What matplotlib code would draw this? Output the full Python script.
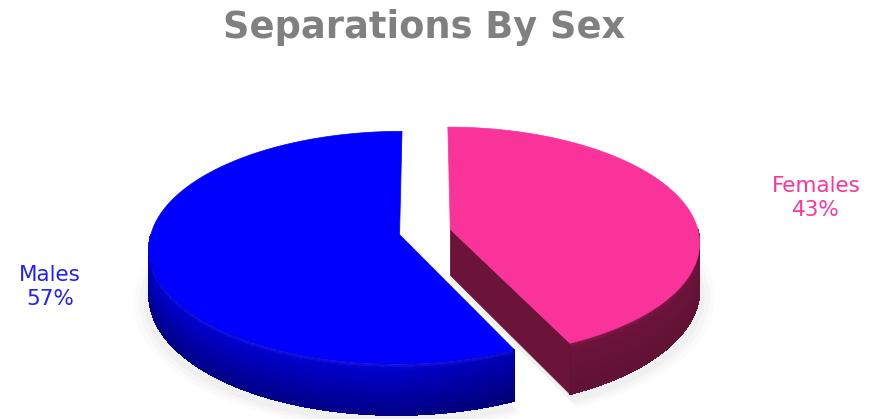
import numpy as np
import matplotlib
matplotlib.use("Agg")
import matplotlib.pyplot as plt
from matplotlib.patches import Polygon
from matplotlib.collections import PolyCollection

# ---- data ----
categories = ["Females", "Males"]
values = [43, 57]
title = "Separations By Sex"

top_colors = ["#F9339A", "#0000FF"]
text_colors = ["#FF3399", "#1F1FFF"]

W, H = 882, 419
fig = plt.figure(figsize=(W / 100, H / 100), dpi=100)
ax = fig.add_axes([0, 0, 1, 1])
ax.set_xlim(0, W)
ax.set_ylim(H, 0)
ax.axis("off")

cx, cy = 425, 232
R, RY, K, DEPTH = 248, 114, 0.109, 46
EXPLODE = 0.105


def proj(u, v, z, ox, oy):
    uu = np.asarray(u) + ox
    vv = np.asarray(v) + oy
    s = 1.0 / (1.0 + K * vv)
    return cx + R * uu * s, cy - RY * vv * s + DEPTH * z * s


def wall_color(idx, a, z):
    if idx == 1:  # Males (blue)
        if z < 0.12:
            c = np.array([30, 30, 238]) * (1 - z / 0.12) + np.array([0, 0, 205]) * (z / 0.12)
        else:
            t = (z - 0.12) / 0.88
            c = np.array([0, 0, 205]) * (1 - t) + np.array([0, 0, 135]) * t
        c = c * (1 - 0.3 * max(0.0, np.cos(np.radians(a))))
    else:  # Females (maroon)
        if z < 0.1:
            c = np.array([150, 30, 85]) * (1 - z / 0.1) + np.array([110, 20, 60]) * (z / 0.1)
        else:
            c = np.array([110, 20, 60]) * (1 - 0.12 * z)
    return tuple(np.clip(c, 0, 255) / 255.0)


total = float(sum(values))
slices = []
start = 90.0
for i, val in enumerate(values):
    t1 = start
    t2 = start - 360.0 * val / total
    mid = np.radians((t1 + t2) / 2)
    ox, oy = EXPLODE * np.cos(mid), EXPLODE * np.sin(mid)
    slices.append((i, t1, t2, ox, oy))
    start = t2

# soft shadow under the pie
for grow, alpha in [(1.06, 0.03), (1.04, 0.04), (1.02, 0.05)]:
    for (i, t1, t2, ox, oy) in slices:
        ang = np.radians(np.linspace(t2, t1, 120))
        u = np.concatenate([[0], np.cos(ang) * grow])
        v = np.concatenate([[0], np.sin(ang) * grow])
        x, y = proj(u, v, 1.0, ox, oy)
        ax.add_patch(Polygon(np.column_stack([x, y + 6]), closed=True,
                             facecolor="#888888", edgecolor="none", alpha=alpha, zorder=1))

# draw back slices first
order = sorted(slices, key=lambda s: -s[4])
zo = 2
for (i, t1, t2, ox, oy) in order:
    # radial walls facing the viewer
    for th, normal_v in [(t1, np.cos(np.radians(t1))), (t2, -np.cos(np.radians(t2)))]:
        if normal_v < -1e-6:
            a = np.radians(th)
            u = np.array([0, np.cos(a), np.cos(a), 0])
            v = np.array([0, np.sin(a), np.sin(a), 0])
            z = np.array([0, 0, 1, 1])
            x, y = proj(u, v, z, ox, oy)
            col = "#6B1339" if i == 0 else "#0000A0"
            ax.add_patch(Polygon(np.column_stack([x, y]), closed=True,
                                 facecolor=col, edgecolor=col, linewidth=0.5, zorder=zo))
    zo += 1
    # curved front wall
    lo, hi = max(t2, -180.0), min(t1, 0.0)
    if hi > lo:
        angs = np.linspace(lo, hi, 70)
        zs = np.linspace(0, 1, 24)
        polys, cols = [], []
        for j in range(len(angs) - 1):
            a0, a1 = np.radians(angs[j]), np.radians(angs[j + 1])
            for k in range(len(zs) - 1):
                z0, z1 = zs[k], zs[k + 1]
                u = np.array([np.cos(a0), np.cos(a1), np.cos(a1), np.cos(a0)])
                v = np.array([np.sin(a0), np.sin(a1), np.sin(a1), np.sin(a0)])
                zz = np.array([z0, z0, z1, z1])
                x, y = proj(u, v, zz, ox, oy)
                polys.append(np.column_stack([x, y]))
                cols.append(wall_color(i, (angs[j] + angs[j + 1]) / 2, (z0 + z1) / 2))
        pc = PolyCollection(polys, facecolors=cols, edgecolors=cols, linewidths=0.6,
                            antialiaseds=False, zorder=zo)
        ax.add_collection(pc)
        # smooth outline of the wall
        a = np.radians(np.linspace(lo, hi, 200))
        xt, yt = proj(np.cos(a), np.sin(a), 0.0, ox, oy)
        xb, yb = proj(np.cos(a), np.sin(a), 1.0, ox, oy)
        outline = np.column_stack([np.concatenate([xt, xb[::-1]]), np.concatenate([yt, yb[::-1]])])
        ax.add_patch(Polygon(outline, closed=True, facecolor="none",
                             edgecolor=wall_color(i, -150, 0.9), linewidth=0.7, zorder=zo))
    zo += 1
    # top face
    ang = np.radians(np.linspace(t2, t1, 200))
    u = np.concatenate([[0], np.cos(ang)])
    v = np.concatenate([[0], np.sin(ang)])
    x, y = proj(u, v, 0.0, ox, oy)
    ax.add_patch(Polygon(np.column_stack([x, y]), closed=True,
                         facecolor=top_colors[i], edgecolor=top_colors[i], linewidth=0.5, zorder=zo))
    zo += 1

# title
ax.text(424, 38, title, ha="center", va="baseline", fontsize=26.5, fontweight="bold",
        color="#808080", family=["DejaVu Sans"], zorder=20)

# labels
label_pos = {"Females": (816, 198), "Males": (50, 287)}
for i, cat in enumerate(categories):
    pct = 100.0 * values[i] / total
    x, y = label_pos[cat]
    ax.text(x, y, f"{cat}\n{pct:.0f}%", ha="center", va="center", fontsize=15.5,
            color=text_colors[i], family=["DejaVu Sans"], linespacing=1.3, zorder=20)

fig.savefig("out.png", dpi=100)
